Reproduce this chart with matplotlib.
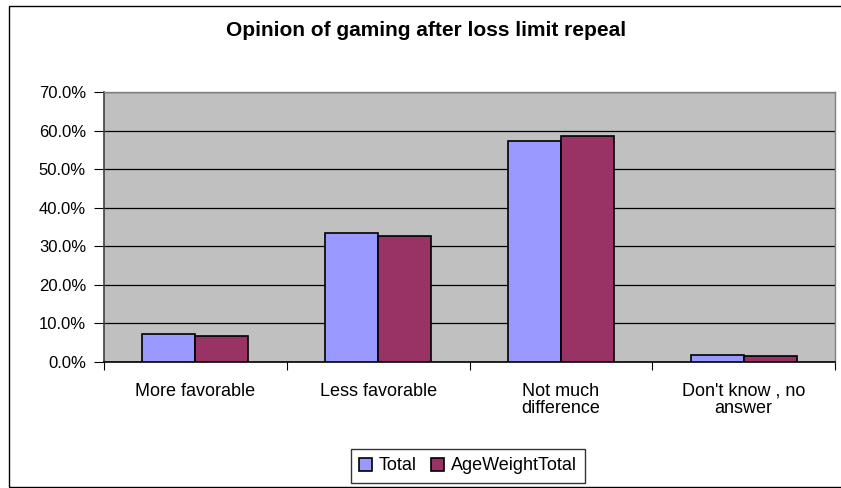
import matplotlib
matplotlib.use("Agg")
import matplotlib.pyplot as plt
from matplotlib.patches import Rectangle
from matplotlib.ticker import FuncFormatter, MultipleLocator
import numpy as np

categories = ["More favorable", "Less favorable", "Not much\ndifference", "Don't know , no\nanswer"]
total = [7.3, 33.4, 57.4, 1.7]
age_weight_total = [6.8, 32.6, 58.7, 1.6]
series_names = ["Total", "AgeWeightTotal"]
title = "Opinion of gaming after loss limit repeal"

plt.rcParams['font.family'] = ['Liberation Sans', 'DejaVu Sans']

W, H = 841, 488
fig = plt.figure(figsize=(W / 100, H / 100), dpi=100)
fig.patch.set_facecolor("white")

# figure border
fig.patches.append(Rectangle((9 / W, 1 / H), 1.2, (486 - 5) / H, transform=fig.transFigure,
                             fill=False, edgecolor="black", linewidth=1.0))

ax = fig.add_axes([104 / W, (H - 362) / H, (835 - 104) / W, (362 - 92) / H])
ax.set_facecolor("#C0C0C0")

x = np.arange(len(categories))
bw = 0.29
ax.bar(x - bw / 2, total, bw, color="#9999FF", edgecolor="black", linewidth=1.2,
       label=series_names[0], zorder=3)
ax.bar(x + bw / 2, age_weight_total, bw, color="#993366", edgecolor="black", linewidth=1.2,
       label=series_names[1], zorder=3)

ax.set_xlim(-0.5, len(categories) - 0.5)
ax.set_ylim(0, 70)
ax.yaxis.set_major_locator(MultipleLocator(10))
ax.yaxis.set_major_formatter(FuncFormatter(lambda v, p: f"{v:.1f}%"))
ax.grid(axis="y", color="black", linewidth=0.9, zorder=1)

ax.set_xticks(np.arange(len(categories) + 1) - 0.5)
ax.set_xticklabels([])
ax.set_xticks(x, minor=True)
ax.set_xticklabels(categories, minor=True, fontsize=13, linespacing=1.05)
ax.tick_params(axis="x", which="minor", length=0, pad=15)
ax.tick_params(axis="x", which="major", length=6, direction="out", color="black")
ax.tick_params(axis="y", length=7, direction="out", labelsize=12, pad=6, color="black")

for s in ["top", "right"]:
    ax.spines[s].set_color("#808080")
    ax.spines[s].set_linewidth(1.0)
ax.spines["left"].set_color("#404040")
ax.spines["bottom"].set_color("black")
ax.spines["left"].set_linewidth(1.2)
ax.spines["bottom"].set_linewidth(1.2)

fig.text(426 / W, 1 - 31 / H, title, ha="center", va="center", fontsize=15, fontweight="bold")

leg = fig.legend(loc="center", bbox_to_anchor=(468 / W, 1 - 466 / H), ncol=2, fontsize=13,
                 frameon=True, fancybox=False, edgecolor="black", handlelength=0.7,
                 handleheight=0.7, handletextpad=0.4, columnspacing=0.8, borderpad=0.45)
leg.get_frame().set_linewidth(1.0)

fig.savefig("out.png", dpi=100)
